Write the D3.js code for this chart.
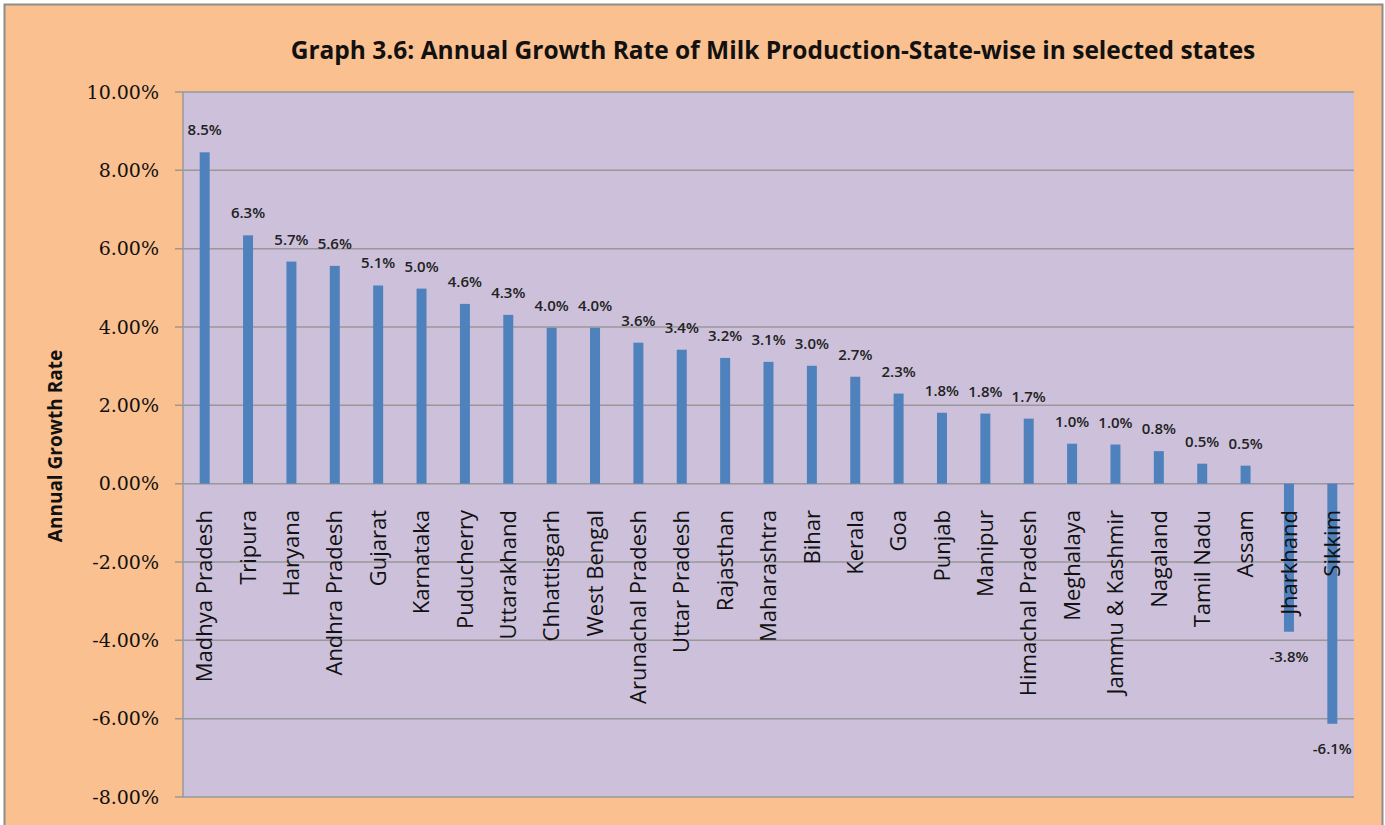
<!DOCTYPE html>
<meta charset="utf-8">
<title>Graph 3.6</title>
<style>
  body { margin: 0; background: #fff; }
  .grid line { stroke: #989898; stroke-width: 1.5px; }
  .yaxis text { font-family: "DejaVu Serif", serif; font-size: 19px; fill: #111; }
  .cat { font-family: "Open Sans", sans-serif; font-size: 22px; fill: #111; }
  .val { font-family: "Open Sans", sans-serif; font-size: 15px; font-weight: 600; fill: #222; }
</style>
<body>
<script src="https://d3js.org/d3.v7.min.js"></script>
<script>

var width = 1385,
    height = 825;

// states in the order drawn
var states = ["Madhya Pradesh", "Tripura", "Haryana", "Andhra Pradesh", "Gujarat", "Karnataka",
  "Puducherry", "Uttarakhand", "Chhattisgarh", "West Bengal", "Arunachal Pradesh", "Uttar Pradesh",
  "Rajasthan", "Maharashtra", "Bihar", "Kerala", "Goa", "Punjab", "Manipur", "Himachal Pradesh",
  "Meghalaya", "Jammu & Kashmir", "Nagaland", "Tamil Nadu", "Assam", "Jharkhand", "Sikkim"];

// growth rate, percent
var growth = [8.46, 6.34, 5.67, 5.56, 5.06, 4.98, 4.59, 4.31, 3.98, 3.98, 3.6, 3.42,
  3.21, 3.11, 3.01, 2.73, 2.3, 1.81, 1.79, 1.66, 1.02, 1.0, 0.83, 0.51, 0.46, -3.78, -6.13];

var yTicks = [-8, -6, -4, -2, 0, 2, 4, 6, 8, 10];

var data = states.map(function(s, i) { return {state: s, value: growth[i]}; });

var plot = {left: 183, right: 1354, top: 92, bottom: 797};

var svg = d3.select("body").append("svg")
  .attr("width", width)
  .attr("height", height);

// outer chart area
svg.append("rect")
  .attr("x", 4.5).attr("y", 4.5)
  .attr("width", 1378).attr("height", 840)
  .attr("fill", "#fac090")
  .attr("stroke", "#8c8c8c")
  .attr("stroke-width", 2);

svg.append("rect")
  .attr("x", plot.left).attr("y", plot.top)
  .attr("width", plot.right - plot.left).attr("height", plot.bottom - plot.top)
  .attr("fill", "#ccc0da");

var x = d3.scaleBand()
  .domain(states)
  .range([plot.left, plot.right])
  .paddingInner(0.77)
  .paddingOuter(0.385);

var y = d3.scaleLinear()
  .domain([-8, 10])
  .range([plot.bottom, plot.top]);

// gridlines
svg.append("g").attr("class", "grid")
  .selectAll("line").data(yTicks).enter().append("line")
  .attr("x1", plot.left - 8).attr("x2", plot.right)
  .attr("y1", function(d) { return y(d); })
  .attr("y2", function(d) { return y(d); });

svg.append("line")
  .attr("x1", plot.left).attr("x2", plot.left)
  .attr("y1", plot.top).attr("y2", plot.bottom)
  .attr("stroke", "#989898").attr("stroke-width", 1.5);

var yAxis = svg.append("g").attr("class", "yaxis")
  .attr("transform", "translate(" + plot.left + ",0)")
  .call(d3.axisLeft(y).tickValues(yTicks).tickSize(0).tickPadding(24)
    .tickFormat(function(d) { return d.toFixed(2) + "%"; }));
yAxis.select(".domain").remove();

// bars
svg.append("g").selectAll("rect").data(data).enter().append("rect")
  .attr("x", function(d) { return x(d.state); })
  .attr("width", x.bandwidth())
  .attr("y", function(d) { return y(Math.max(0, d.value)); })
  .attr("height", function(d) { return Math.abs(y(d.value) - y(0)); })
  .attr("fill", "#4f81bd");

// value labels
svg.append("g").selectAll("text").data(data).enter().append("text")
  .attr("class", "val")
  .attr("text-anchor", "middle")
  .attr("x", function(d) { return x(d.state) + x.bandwidth() / 2; })
  .attr("y", function(d) { return d.value >= 0 ? y(d.value) - 17 : y(d.value) + 30; })
  .text(function(d) { return d.value.toFixed(1) + "%"; });

// category labels
svg.append("g").selectAll("text").data(data).enter().append("text")
  .attr("class", "cat")
  .attr("text-anchor", "end")
  .attr("dy", "0.35em")
  .attr("transform", function(d) {
    return "translate(" + (x(d.state) + x.bandwidth() / 2) + ",510) rotate(-90)";
  })
  .text(function(d) { return d.state; });

svg.append("text")
  .attr("transform", "translate(55,446) rotate(-90)")
  .attr("dy", "0.35em")
  .attr("text-anchor", "middle")
  .style("font-family", "Open Sans, sans-serif")
  .style("font-size", "19px")
  .style("font-weight", "700")
  .style("fill", "#111")
  .text("Annual Growth Rate");

svg.append("text")
  .attr("x", 773).attr("y", 59)
  .attr("text-anchor", "middle")
  .style("font-family", "Open Sans, sans-serif")
  .style("font-size", "24.5px")
  .style("font-weight", "700")
  .style("fill", "#111")
  .text("Graph 3.6: Annual Growth Rate of Milk Production-State-wise in selected states");

</script>
